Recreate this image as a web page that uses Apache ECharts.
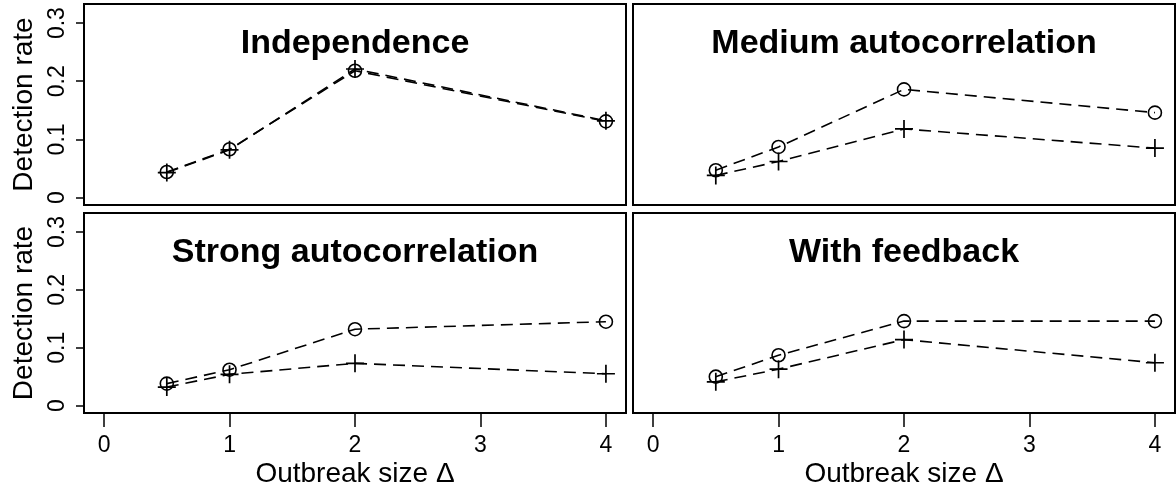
<!DOCTYPE html>
<html>
<head>
<meta charset="utf-8">
<script src="https://cdn.jsdelivr.net/npm/echarts@6/dist/echarts.min.js"></script>
<style>
  html, body { margin: 0; padding: 0; background: #fff; }
  #chart { width: 1176px; height: 490px; }
</style>
</head>
<body>
<div id="chart"></div>
<script>
// Outbreak sizes on the x axis
const outbreakSizes = [0.5, 1, 2, 4];
const xTickValues = [0, 1, 2, 3, 4];
const yTickValues = [0, 0.1, 0.2, 0.3];

// Panel titles, left-to-right then top-to-bottom
const panelTitles = ['Independence', 'Medium autocorrelation', 'Strong autocorrelation', 'With feedback'];

// Detection rates, circle marker series (one array per panel)
const independenceCircle = [0.044, 0.083, 0.218, 0.131];
const mediumCircle       = [0.047, 0.087, 0.186, 0.146];
const strongCircle       = [0.038, 0.062, 0.132, 0.145];
const feedbackCircle     = [0.050, 0.087, 0.146, 0.146];

// Detection rates, plus marker series (one array per panel)
const independencePlus = [0.043, 0.082, 0.221, 0.132];
const mediumPlus       = [0.038, 0.062, 0.118, 0.085];
const strongPlus       = [0.032, 0.054, 0.073, 0.055];
const feedbackPlus     = [0.041, 0.063, 0.114, 0.074];

const circleSets = [independenceCircle, mediumCircle, strongCircle, feedbackCircle];
const plusSets = [independencePlus, mediumPlus, strongPlus, feedbackPlus];

const FONT = '"Liberation Sans", Arial, Helvetica, sans-serif';

// Panel boxes (2 x 2 layout)
const panelBoxes = [
  { left: 84,  top: 4,   width: 542, height: 201 },
  { left: 633, top: 4,   width: 542, height: 201 },
  { left: 84,  top: 213, width: 542, height: 200 },
  { left: 633, top: 213, width: 542, height: 200 }
];

const grids = [], xAxes = [], yAxes = [], series = [], titles = [];

panelBoxes.forEach((box, i) => {
  const isBottom = i >= 2;
  const isLeft = i % 2 === 0;

  grids.push(Object.assign({
    show: true,
    borderColor: '#000',
    borderWidth: 2,
    backgroundColor: 'transparent',
    containLabel: false,
    outerBoundsMode: 'none'
  }, box));

  xAxes.push({
    gridIndex: i,
    type: 'value',
    position: 'bottom',
    min: -0.16,
    max: 4.16,
    splitLine: { show: false },
    axisLine: { show: false, onZero: false },
    axisTick: {
      show: isBottom,
      customValues: xTickValues,
      length: 14,
      lineStyle: { color: '#000', width: 1.5 }
    },
    axisLabel: {
      show: isBottom,
      customValues: xTickValues,
      margin: 21,
      fontSize: 23,
      fontFamily: FONT,
      color: '#000'
    },
    name: isBottom ? 'Outbreak size \u0394' : '',
    nameLocation: 'middle',
    nameGap: 47,
    nameTextStyle: { fontSize: 28, fontFamily: FONT, color: '#000' }
  });

  yAxes.push({
    gridIndex: i,
    type: 'value',
    position: 'left',
    min: -0.0128,
    max: 0.3328,
    splitLine: { show: false },
    axisLine: { show: false, onZero: false },
    axisTick: {
      show: isLeft,
      customValues: yTickValues,
      length: 8,
      lineStyle: { color: '#000', width: 1.5 }
    },
    axisLabel: {
      show: isLeft,
      customValues: yTickValues,
      rotate: 90,
      margin: 15,
      fontSize: 23,
      fontFamily: FONT,
      color: '#000',
      formatter: v => String(v)
    },
    name: isLeft ? 'Detection rate' : '',
    nameLocation: 'middle',
    nameRotate: 90,
    nameGap: 46,
    nameTextStyle: { fontSize: 28, fontFamily: FONT, color: '#000' }
  });

  titles.push({
    text: panelTitles[i],
    left: box.left + box.width / 2,
    top: box.top + 23,
    textAlign: 'center',
    padding: 0,
    textStyle: { fontSize: 34, fontWeight: 'bold', fontFamily: FONT, color: '#000' }
  });

  const dashed = { color: '#000', width: 1.6, type: [12, 7] };

  series.push({
    type: 'line',
    xAxisIndex: i,
    yAxisIndex: i,
    data: outbreakSizes.map((x, j) => [x, circleSets[i][j]]),
    symbol: 'circle',
    symbolSize: 13,
    showAllSymbol: true,
    itemStyle: { color: 'rgba(0,0,0,0)', borderColor: '#000', borderWidth: 1.6 },
    lineStyle: dashed,
    silent: true,
    z: 2
  });

  series.push({
    type: 'line',
    xAxisIndex: i,
    yAxisIndex: i,
    data: outbreakSizes.map((x, j) => [x, plusSets[i][j]]),
    symbol: 'path://M10,0V20M0,10H20',
    symbolSize: 18,
    showAllSymbol: true,
    itemStyle: { color: '#000', borderColor: '#000', borderWidth: 1.7 },
    lineStyle: dashed,
    silent: true,
    z: 3
  });
});

const chart = echarts.init(document.getElementById('chart'), null, { renderer: 'canvas' });
chart.setOption({
  animation: false,
  backgroundColor: '#fff',
  title: titles,
  grid: grids,
  xAxis: xAxes,
  yAxis: yAxes,
  series: series
});
</script>
</body>
</html>
